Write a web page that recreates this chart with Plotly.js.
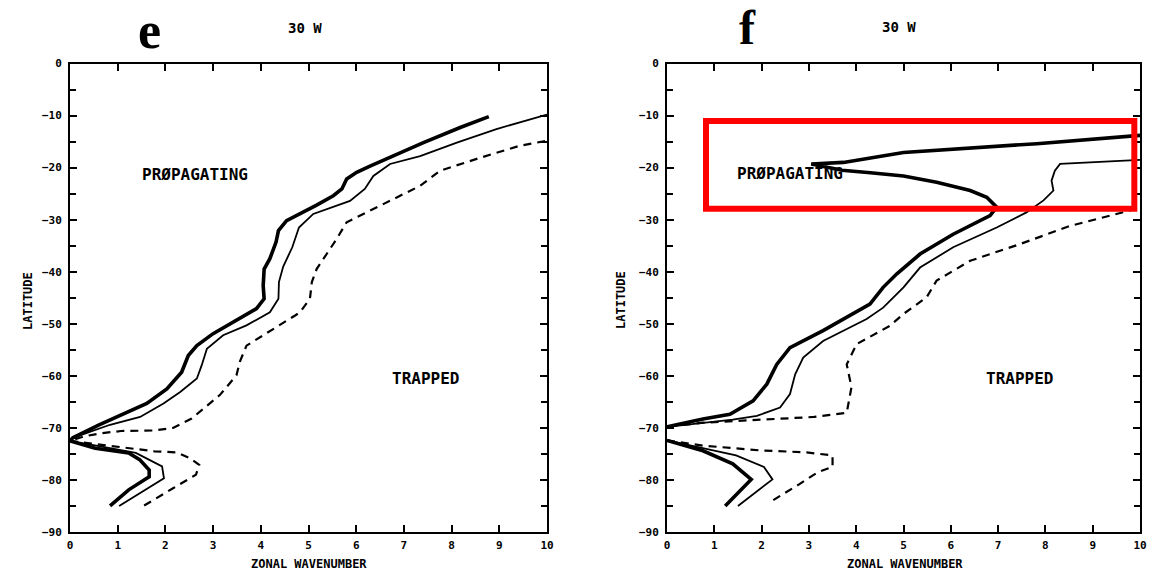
<!DOCTYPE html>
<html>
<head>
<meta charset="utf-8">
<script src="https://cdn.plot.ly/plotly-3.0.1.min.js"></script>
<style>html,body{margin:0;padding:0;background:#fff;}#chart{width:1173px;height:572px;}</style>
</head>
<body>
<div id="chart"></div>
<script>
// ---------- Panel e (30 W) ----------
const eThickUpX = [8.78, 8.18, 7.41, 6.71, 6.29, 6.01, 5.80, 5.70, 5.52, 5.17, 4.79, 4.54, 4.37, 4.32, 4.19, 4.07, 4.05, 4.07, 3.91, 3.42, 3.00, 2.66, 2.48, 2.34, 2.03, 1.61, 1.05, 0.61, 0.06, 0];
const eThickUpLat = [-10.2, -12.3, -15.2, -17.9, -19.7, -20.9, -22.2, -24.1, -25.4, -27.2, -28.9, -30.2, -32.1, -34.3, -37.5, -39.5, -42.7, -45.2, -47.1, -49.7, -51.9, -54.2, -56.1, -59.3, -62.5, -65.3, -67.6, -69.4, -71.9, -72.5];
const eThickLowX = [0, 0.53, 1.23, 1.46, 1.66, 1.66, 1.23, 0.84];
const eThickLowLat = [-72.5, -73.9, -74.8, -76.1, -78.1, -79.4, -81.9, -85.0];

const eThinUpX = [10.0, 8.94, 8.11, 7.34, 6.71, 6.36, 6.18, 5.87, 5.10, 4.80, 4.66, 4.47, 4.38, 4.37, 4.19, 3.70, 3.21, 2.87, 2.76, 2.66, 2.31, 1.96, 1.47, 0.84, 0.06, 0];
const eThinUpLat = [-9.8, -12.6, -15.2, -17.8, -19.3, -21.6, -24.1, -26.4, -28.9, -31.5, -35.3, -39.0, -42.0, -45.2, -47.8, -50.3, -52.2, -54.8, -58.0, -60.5, -63.1, -65.3, -67.9, -69.4, -71.9, -72.5];
const eThinLowX = [0, 1.38, 1.93, 1.97, 1.03];
const eThinLowLat = [-72.5, -74.8, -77.4, -79.7, -85.0];

const eDashUpX = [9.96, 9.43, 8.60, 7.76, 7.34, 6.78, 6.15, 5.80, 5.59, 5.17, 5.07, 5.03, 4.82, 4.72, 3.70, 3.56, 3.49, 3.14, 2.55, 2.16, 1.77, 1.07, 0.68, 0.30, 0];
const eDashUpLat = [-14.9, -15.8, -18.1, -20.6, -23.5, -26.1, -28.9, -30.5, -33.7, -39.5, -42.0, -45.2, -47.8, -48.4, -54.2, -57.3, -59.9, -63.7, -68.2, -70.0, -70.5, -70.6, -71.0, -71.6, -72.5];
const eDashLowX = [0, 0.84, 1.77, 2.24, 2.51, 2.71, 2.64, 2.16, 1.54];
const eDashLowLat = [-72.5, -73.5, -74.5, -74.7, -75.8, -77.1, -79.0, -81.6, -85.0];

// ---------- Panel f (30 W) ----------
const fThickUpX = [10.0, 7.82, 5.0, 4.29, 3.73, 3.05, 3.70, 4.30, 5.0, 5.70, 6.41, 6.76, 6.97, 6.83, 6.05, 5.35, 4.86, 4.57, 4.29, 3.30, 2.60, 2.32, 2.11, 1.82, 1.33, 0.76, 0];
const fThickUpLat = [-13.8, -15.4, -17.1, -18.2, -19.0, -19.3, -20.5, -21.0, -21.6, -22.8, -24.4, -25.7, -27.6, -29.2, -32.8, -36.6, -40.4, -43.0, -46.2, -51.3, -54.6, -57.8, -61.6, -64.8, -67.4, -68.3, -69.8];
const fThickLowX = [0, 0.76, 1.39, 1.78, 1.23];
const fThickLowLat = [-72.4, -74.4, -76.9, -79.9, -85.0];

const fThinUpX = [10.0, 8.31, 8.20, 8.13, 8.17, 7.96, 7.60, 6.97, 6.05, 5.35, 5.00, 4.71, 4.57, 4.22, 3.30, 2.88, 2.71, 2.60, 2.39, 1.90, 1.39, 0];
const fThinUpLat = [-18.5, -19.3, -20.6, -22.5, -24.4, -26.3, -28.6, -31.5, -35.3, -39.2, -43.0, -45.6, -46.9, -49.1, -53.3, -56.5, -59.7, -63.5, -66.1, -67.7, -68.4, -69.8];
const fThinLowX = [0, 1.46, 2.05, 2.23, 1.50];
const fThinLowLat = [-72.4, -75.3, -77.5, -79.9, -85.0];

const fDashUpX = [9.93, 8.52, 7.46, 6.41, 5.70, 5.49, 5.00, 4.71, 4.01, 3.80, 3.90, 3.80, 3.11, 1.93, 0.76, 0];
const fDashUpLat = [-27.9, -31.2, -34.7, -37.9, -41.7, -44.9, -48.1, -50.4, -53.9, -57.8, -62.2, -67.1, -67.9, -68.4, -69.0, -69.8];
const fDashLowX = [0, 0.76, 1.93, 2.95, 3.50, 3.50, 3.19, 2.80, 2.17];
const fDashLowLat = [-72.4, -73.4, -74.3, -74.7, -75.3, -77.5, -78.5, -80.8, -84.3];

// ---------- Text ----------
const panelLetters = ['e', 'f'];
const panelTitles = ['30 W', '30 W'];
const xTitle = 'ZONAL WAVENUMBER';
const yTitle = 'LATITUDE';
const regionLabels = ['PRØPAGATING', 'TRAPPED'];
const xTickVals = [0,1,2,3,4,5,6,7,8,9,10];
const yTickVals = [0,-10,-20,-30,-40,-50,-60,-70,-80,-90];
// highlighted box in panel f (data units)
const boxX = [0.825, 9.88];
const boxLat = [-11.06, -27.9];

const W = 1173, H = 572;
const px = v => v / W;
const py = v => 1 - v / H;

const thick = {color: '#000', width: 3.6};
const thin = {color: '#000', width: 1.8};
const dash = {color: '#000', width: 2.2, dash: '8px,6px'};

function tr(x, y, line, ax) {
  return {x: x, y: y, type: 'scatter', mode: 'lines', line: line,
          xaxis: ax === 2 ? 'x2' : 'x', yaxis: ax === 2 ? 'y2' : 'y',
          hoverinfo: 'skip', showlegend: false};
}

const traces = [
  tr(eThickUpX, eThickUpLat, thick, 1), tr(eThickLowX, eThickLowLat, thick, 1),
  tr(eThinUpX, eThinUpLat, thin, 1), tr(eThinLowX, eThinLowLat, thin, 1),
  tr(eDashUpX, eDashUpLat, dash, 1), tr(eDashLowX, eDashLowLat, dash, 1),
  tr(fThickUpX, fThickUpLat, thick, 2), tr(fThickLowX, fThickLowLat, thick, 2),
  tr(fThinUpX, fThinUpLat, thin, 2), tr(fThinLowX, fThinLowLat, thin, 2),
  tr(fDashUpX, fDashUpLat, dash, 2), tr(fDashLowX, fDashLowLat, dash, 2)
];

const tickFont = {family: 'DejaVu Sans Mono', size: 11, color: '#000', weight: 'bold'};

function xax(domain, anchor) {
  return {domain: domain, anchor: anchor, range: [0, 10], tickvals: xTickVals,
    ticks: 'inside', ticklen: 7, tickwidth: 2, tickcolor: '#000',
    showline: true, linewidth: 2, linecolor: '#000', mirror: 'ticks',
    showgrid: false, zeroline: false, tickfont: tickFont, ticklabelstandoff: 2,
    fixedrange: true};
}
function yax(domain, anchor) {
  return {domain: domain, anchor: anchor, range: [-90, 0], tickvals: yTickVals,
    ticks: 'inside', ticklen: 7, tickwidth: 2, tickcolor: '#000',
    minor: {dtick: 5, ticks: 'inside', ticklen: 6, tickwidth: 2, tickcolor: '#000'},
    showline: true, linewidth: 2, linecolor: '#000', mirror: 'ticks',
    showgrid: false, zeroline: false, tickfont: tickFont, ticklabelstandoff: 4,
    fixedrange: true};
}

const yDom = [py(532), py(63.5)];
const layout = {
  width: W, height: H,
  margin: {l: 0, r: 0, t: 0, b: 0},
  paper_bgcolor: '#fff', plot_bgcolor: '#fff',
  showlegend: false,
  xaxis: xax([px(70), px(547)], 'y'),
  yaxis: yax(yDom, 'x'),
  xaxis2: xax([px(667), px(1140)], 'y2'),
  yaxis2: yax(yDom, 'x2'),
  shapes: [{type: 'rect', xref: 'x2', yref: 'y2', x0: boxX[0], x1: boxX[1], y0: boxLat[0], y1: boxLat[1],
            line: {color: '#ff0000', width: 6}, fillcolor: 'rgba(0,0,0,0)'}],
  annotations: [
    {text: panelLetters[0], xref: 'paper', yref: 'paper', x: px(149), y: py(61), xanchor: 'center', yanchor: 'bottom',
     showarrow: false, font: {family: 'Liberation Serif', size: 52, color: '#000', weight: 'bold'}},
    {text: panelLetters[1], xref: 'paper', yref: 'paper', x: px(747), y: 1, xanchor: 'center', yanchor: 'top', borderpad: 0,
     showarrow: false, font: {family: 'Liberation Serif', size: 48, color: '#000', weight: 'bold'}},
    {text: panelTitles[0], xref: 'paper', yref: 'paper', x: px(305), y: py(27.5), xanchor: 'center', yanchor: 'middle',
     showarrow: false, font: {family: 'DejaVu Sans Mono', size: 14, color: '#000', weight: 'bold'}},
    {text: panelTitles[1], xref: 'paper', yref: 'paper', x: px(899), y: py(27), xanchor: 'center', yanchor: 'middle',
     showarrow: false, font: {family: 'DejaVu Sans Mono', size: 14, color: '#000', weight: 'bold'}},
    {text: xTitle, xref: 'paper', yref: 'paper', x: px(309), y: py(563.5), xanchor: 'center', yanchor: 'middle',
     showarrow: false, font: {family: 'DejaVu Sans Mono', size: 12, color: '#000', weight: 'bold'}},
    {text: xTitle, xref: 'paper', yref: 'paper', x: px(905), y: py(563.5), xanchor: 'center', yanchor: 'middle',
     showarrow: false, font: {family: 'DejaVu Sans Mono', size: 12, color: '#000', weight: 'bold'}},
    {text: yTitle, xref: 'paper', yref: 'paper', x: px(28), y: py(301), xanchor: 'center', yanchor: 'middle', textangle: -90,
     showarrow: false, font: {family: 'DejaVu Sans Mono', size: 12, color: '#000', weight: 'bold'}},
    {text: yTitle, xref: 'paper', yref: 'paper', x: px(621), y: py(300), xanchor: 'center', yanchor: 'middle', textangle: -90,
     showarrow: false, font: {family: 'DejaVu Sans Mono', size: 12, color: '#000', weight: 'bold'}},
    {text: regionLabels[0], xref: 'x', yref: 'y', x: 2.62, y: -21.3, xanchor: 'center', yanchor: 'middle',
     showarrow: false, font: {family: 'DejaVu Sans Mono', size: 16, color: '#000', weight: 'bold'}},
    {text: regionLabels[1], xref: 'x', yref: 'y', x: 7.46, y: -60.5, xanchor: 'center', yanchor: 'middle',
     showarrow: false, font: {family: 'DejaVu Sans Mono', size: 16, color: '#000', weight: 'bold'}},
    {text: regionLabels[0], xref: 'x2', yref: 'y2', x: 2.6, y: -21.2, xanchor: 'center', yanchor: 'middle',
     showarrow: false, font: {family: 'DejaVu Sans Mono', size: 16, color: '#000', weight: 'bold'}},
    {text: regionLabels[1], xref: 'x2', yref: 'y2', x: 7.46, y: -60.6, xanchor: 'center', yanchor: 'middle',
     showarrow: false, font: {family: 'DejaVu Sans Mono', size: 16, color: '#000', weight: 'bold'}}
  ]
};

Plotly.newPlot('chart', traces, layout, {staticPlot: true, displayModeBar: false});
</script>
</body>
</html>
